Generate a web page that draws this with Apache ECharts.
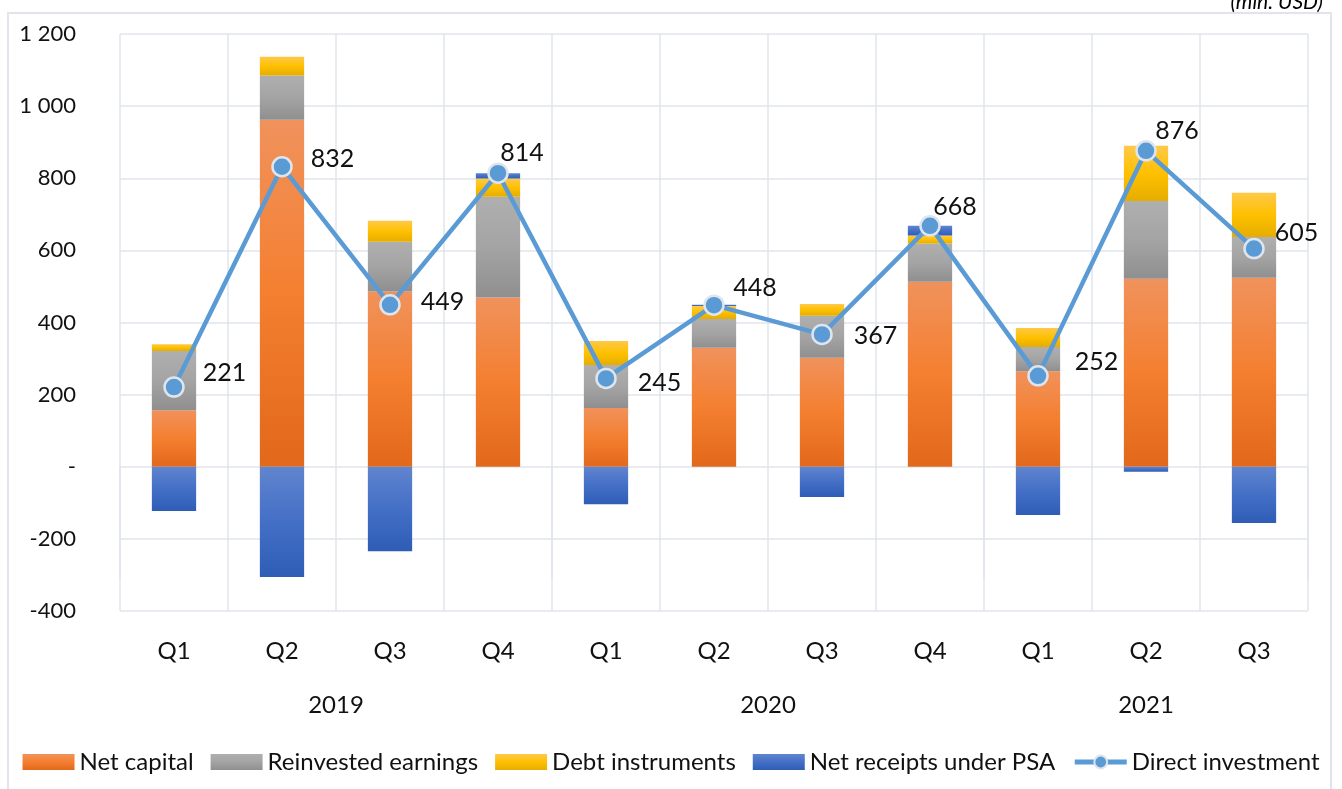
<!DOCTYPE html>
<html>
<head>
<meta charset="utf-8">
<script src="https://cdn.jsdelivr.net/npm/echarts@6/dist/echarts.min.js"></script>
<style>
  html, body { margin: 0; padding: 0; background: #fff; }
  #frame { position: absolute; left: 7px; top: 12px; width: 1321px; height: 800px; border: 2px solid #e1e5eb; }
  #main { position: absolute; left: 0; top: 0; width: 1342px; height: 789px; }
</style>
</head>
<body>
<div id="frame"></div>
<div id="main"></div>
<script>
const quarters = ['Q1', 'Q2', 'Q3', 'Q4', 'Q1', 'Q2', 'Q3', 'Q4', 'Q1', 'Q2', 'Q3'];
const years = ['2019', '2020', '2021'];
const yearSpans = [4, 4, 3];

const netCapital = [157, 962, 486, 469, 163, 330, 302, 513, 265, 521, 524];
const reinvested = [164, 123, 138, 280, 119, 80, 117, 106, 67, 216, 113];
const debtInstr = [19, 52, 58, 50, 67, 36, 32, 22, 53, 153, 123];
const psaReceipts = [-123, -306, -234, 15, -104, 3, -84, 27, -134, -14, -156];
const directInv = [221, 832, 449, 814, 245, 448, 367, 668, 252, 876, 605];

// where each data label sits relative to its point
const labelPos = ['right', 'right', 'right', 'top', 'right', 'top', 'right', 'top', 'right', 'top', 'right'];
const labelOff = [[10, -14], [10, -8], [12, -3], [24, 11], [13, 5], [41, 14], [13, 2], [25, 12], [18, -14], [31, 11], [2, -16]];

const font = 'Lato, "Open Sans", sans-serif';
const gridColor = '#e1e5eb';

// year boundaries and centres on the 0..11 scale
const bounds = [0];
const centers = [];
yearSpans.forEach((s) => {
    const start = bounds[bounds.length - 1];
    centers.push(start + s / 2);
    bounds.push(start + s);
});

const grad = (c1, c2, c3) => new echarts.graphic.LinearGradient(0, 0, 0, 1, [
    { offset: 0, color: c1 },
    { offset: 0.5, color: c2 },
    { offset: 1, color: c3 }
]);

const chart = echarts.init(document.getElementById('main'));

const barSeries = (name, data, color) => ({
    name: name,
    type: 'bar',
    stack: 'total',
    barWidth: '41%',
    data: data,
    itemStyle: { color: color }
});

const option = {
    animation: false,
    textStyle: { fontFamily: font },
    title: {
        text: '(mln. USD)',
        right: 14,
        top: -13,
        textStyle: { fontFamily: font, fontSize: 21, fontStyle: 'italic', fontWeight: 'normal', color: '#000' }
    },
    legend: {
        left: 'center',
        top: 745,
        itemWidth: 52,
        itemHeight: 16,
        itemGap: 17,
        textStyle: { fontFamily: font, fontSize: 24, color: '#111' },
        data: [
            { name: 'Net capital', icon: 'rect' },
            { name: 'Reinvested earnings', icon: 'rect' },
            { name: 'Debt instruments', icon: 'rect' },
            { name: 'Net receipts under PSA', icon: 'rect' },
            { name: 'Direct investment', lineStyle: { width: 5 } }
        ]
    },
    grid: { left: 120, right: 34, top: 34, bottom: 178 },
    xAxis: [{
        type: 'category',
        data: quarters,
        axisLine: { show: false, onZero: false },
        axisTick: { show: false },
        splitLine: { show: true, lineStyle: { color: gridColor, width: 1.5 } },
        axisLabel: { fontSize: 24, color: '#111', margin: 28 }
    }, {
        type: 'value',
        min: 0,
        max: quarters.length,
        position: 'bottom',
        axisLine: { show: false },
        splitLine: { show: false },
        axisTick: {
            show: true,
            customValues: bounds,
            length: 113,
            lineStyle: { color: gridColor, width: 1.5 }
        },
        axisLabel: {
            customValues: centers,
            fontSize: 24,
            color: '#111',
            margin: 82,
            formatter: (v) => years[centers.indexOf(v)]
        }
    }],
    yAxis: {
        type: 'value',
        min: -400,
        max: 1200,
        interval: 200,
        axisLine: { show: false },
        axisTick: { show: false },
        splitLine: { lineStyle: { color: gridColor, width: 1.5 } },
        axisLabel: {
            fontSize: 22,
            color: '#111',
            margin: 44,
            formatter: (v) => v === 0 ? '-' : String(v).replace(/\B(?=(\d{3})+(?!\d))/g, ' ')
        }
    },
    series: [
        barSeries('Net capital', netCapital, grad('#f0925c', '#f47f30', '#e2681b')),
        barSeries('Reinvested earnings', reinvested, grad('#afafaf', '#a4a4a4', '#8f8f8f')),
        barSeries('Debt instruments', debtInstr, grad('#fec94a', '#ffc000', '#e5ad00')),
        barSeries('Net receipts under PSA', psaReceipts, grad('#6085cf', '#446fc6', '#2e5db6')),
        {
            name: 'Direct investment',
            type: 'line',
            data: directInv.map((v, i) => ({
                value: v,
                label: { position: labelPos[i], offset: labelOff[i] }
            })),
            symbol: 'circle',
            symbolSize: 19,
            z: 5,
            lineStyle: { color: '#5b9bd5', width: 4.5 },
            itemStyle: { color: '#5b9bd5', borderColor: '#dfe5ec', borderWidth: 2.5 },
            label: {
                show: true,
                fontSize: 25,
                color: '#111',
                distance: 8
            }
        }
    ]
};

chart.setOption(option);
</script>
</body>
</html>
